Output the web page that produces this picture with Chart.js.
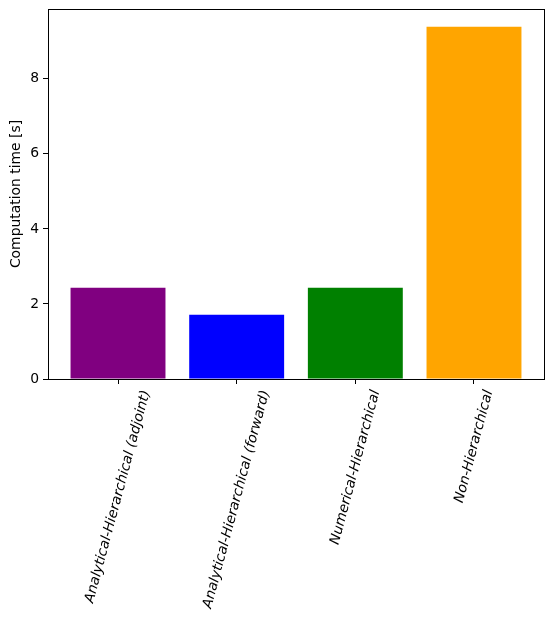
<!DOCTYPE html>
<html>
<head>
<meta charset="utf-8">
<script src="https://cdn.jsdelivr.net/npm/chart.js@4/dist/chart.umd.min.js"></script>
<style>
html,body{margin:0;padding:0;background:#fff;}
#wrap{width:554px;height:620px;position:relative;}
</style>
</head>
<body>
<div id="wrap"><canvas id="c" width="554" height="620"></canvas></div>
<script>
const categories = ["Analytical-Hierarchical (adjoint)", "Analytical-Hierarchical (forward)", "Numerical-Hierarchical", "Non-Hierarchical"];
const times = [2.43, 1.71, 2.43, 9.39];
const barColors = ["#800080", "#0000ff", "#008000", "#ffa500"];
const yTicks = [0, 2, 4, 6, 8];
const yTitle = "Computation time [s]";

const FONT = "'DejaVu Sans', sans-serif";
const FS = 13.9;

const labelPlugin = {
  id: 'labels',
  afterDraw(chart) {
    const ctx = chart.ctx;
    const a = chart.chartArea;
    const xs = chart.scales.x;
    ctx.save();
    ctx.strokeStyle = '#000';
    ctx.lineWidth = 1;
    ctx.strokeRect(Math.round(a.left) + 0.5, Math.round(a.top) + 0.5, Math.round(a.right - a.left), Math.round(a.bottom - a.top));
    ctx.fillStyle = '#000';
    ctx.textAlign = 'center';
    ctx.textBaseline = 'middle';
    ctx.font = 'italic ' + FS + 'px ' + FONT;
    const ang = 75 * Math.PI / 180;
    const top = a.bottom + 5 + 4.9;
    categories.forEach((t, i) => {
      const x = xs.getPixelForValue(i);
      const L = ctx.measureText(t).width;
      const h = FS;
      const bh = L * Math.sin(ang) + h * Math.cos(ang);
      ctx.save();
      ctx.translate(x, top + bh / 2);
      ctx.rotate(-ang);
      ctx.fillText(t, 0, 0);
      ctx.restore();
    });
    ctx.font = FS + 'px ' + FONT;
    ctx.save();
    ctx.translate(16, (a.top + a.bottom) / 2);
    ctx.rotate(-Math.PI / 2);
    ctx.fillText(yTitle, 0, 0);
    ctx.restore();
    ctx.restore();
  }
};

new Chart(document.getElementById('c'), {
  type: 'bar',
  data: {
    datasets: [{
      data: times.map((v, i) => ({x: i, y: v})),
      backgroundColor: barColors,
      borderWidth: 0,
      barPercentage: 0.8,
      categoryPercentage: 1.0
    }]
  },
  plugins: [labelPlugin],
  options: {
    responsive: false,
    animation: false,
    devicePixelRatio: 1,
    layout: {padding: {left: 0, right: 10, top: 9, bottom: 0}},
    plugins: {legend: {display: false}, tooltip: {enabled: false}},
    scales: {
      x: {
        type: 'linear',
        offset: false,
        min: -0.59,
        max: 3.59,
        afterBuildTicks(s) { s.ticks = categories.map((c, i) => ({value: i})); },
        afterFit(s) { s.height = 620 - 379; s.paddingLeft = 0; s.paddingRight = 0; },
        ticks: {display: false},
        grid: {offset: false, drawOnChartArea: false, drawTicks: true, tickLength: 5, color: '#000', lineWidth: 1},
        border: {display: false}
      },
      y: {
        min: 0,
        max: 9.86,
        afterBuildTicks(s) { s.ticks = yTicks.map(v => ({value: v})); },
        afterFit(s) { s.width = 48; s.paddingTop = 0; s.paddingBottom = 0; },
        ticks: {color: '#000', font: {family: FONT, size: FS}, padding: 4},
        grid: {drawOnChartArea: false, drawTicks: true, tickLength: 5, color: '#000', lineWidth: 1},
        border: {display: false}
      }
    }
  }
});
</script>
</body>
</html>
